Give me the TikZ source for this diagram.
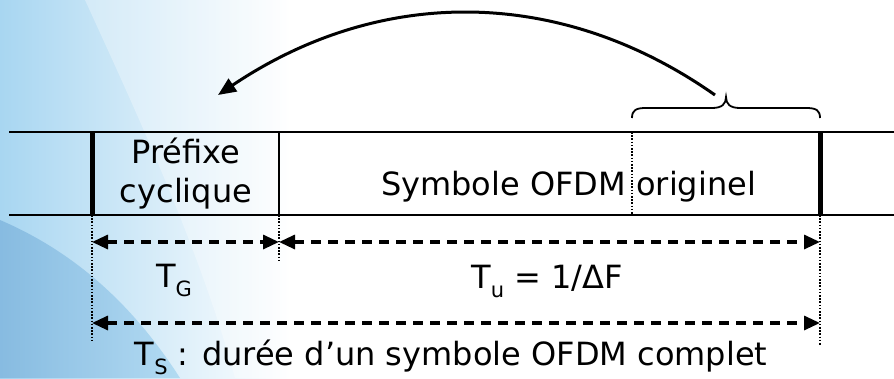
\documentclass[tikz,border=0pt]{standalone}
\usepackage{fontspec}
\setmainfont{DejaVu Sans}
\usetikzlibrary{arrows.meta}
\definecolor{bgA}{HTML}{A8D6F1}
\definecolor{bgB}{HTML}{7FB5DD}
\begin{document}
\begin{tikzpicture}[x=1pt,y=-1pt,
  bandline/.style={line width=2.7pt},
  sepline/.style={line width=5pt},
  thinsep/.style={line width=2.5pt},
  dotline/.style={line width=1.6pt, dash pattern=on 1.6pt off 1.6pt},
  dimarrow/.style={line width=3.2pt, dash pattern=on 10pt off 7pt,
    {Triangle[length=16pt,width=14pt]}-{Triangle[length=16pt,width=14pt]}},
  lbl/.style={font=\fontsize{32}{39}\selectfont, inner sep=0pt}]
% background
\useasboundingbox (0,0) rectangle (894,378);
\fill[white] (0,0) rectangle (894,378);
\shade[left color=bgA, right color=white] (0,0) rectangle (290,378);
\shade[left color=bgB, right color=bgA, opacity=0.8]
  (0,378) -- (0,220) .. controls (70,250) and (130,300) .. (180,378) -- cycle;
\fill[white, opacity=0.3] (85,0) .. controls (140,120) and (200,250) .. (235,378)
  -- (290,378) -- (290,0) -- cycle;
% key points
\coordinate (L0) at (9,132);   \coordinate (R0) at (894,132);
\coordinate (L1) at (9,215);   \coordinate (R1) at (894,215);
\coordinate (A0) at (92,132);  \coordinate (A1) at (92,215);
\coordinate (B0) at (279,132); \coordinate (B1) at (279,215);
\coordinate (C0) at (632,132); \coordinate (C1) at (632,215);
\coordinate (D0) at (820,132); \coordinate (D1) at (820,215);
\coordinate (Ad) at (92,342);  \coordinate (Bd) at (279,262); \coordinate (Dd) at (820,345);
\coordinate (A2) at (92,242);  \coordinate (B2) at (279,242); \coordinate (D2) at (820,242);
\coordinate (A3) at (92,323);  \coordinate (D3) at (820,323);
% band
\draw[bandline] (L0) -- (R0);
\draw[bandline] (L1) -- (R1);
\draw[sepline] (A0) -- (A1);
\draw[thinsep] (B0) -- (B1);
\draw[sepline] (D0) -- (D1);
\draw[dotline] (C0) -- (C1);
% dotted guides
\draw[dotline] (A1) -- (Ad);
\draw[dotline] (B1) -- (Bd);
\draw[dotline] (D1) -- (Dd);
% dimension arrows
\draw[dimarrow] (A2) -- (B2);
\draw[dimarrow] (B2) -- (D2);
\draw[dimarrow] (A3) -- (D3);
% texts
\node[lbl, anchor=base, align=center] (pref) at (186,202) {Préfixe\\cyclique};
\node[lbl, anchor=base west] (sym) at (381,195) {Symbole OFDM originel};
\node[lbl, anchor=base] (tg) at (174,287) {T\raisebox{-0.3em}{\fontsize{21}{21}\selectfont G}};
\node[lbl, anchor=base] (tu) at (547,288) {T\raisebox{-0.3em}{\fontsize{21}{21}\selectfont u} = 1/ΔF};
\node[lbl, anchor=base] (ts) at (451,365) {T\raisebox{-0.3em}{\fontsize{21}{21}\selectfont S} : durée d’un symbole OFDM complet};
% brace
\coordinate (bt) at (726,97);
\draw[line width=1.8pt] (632,118) .. controls (632,110) and (636,108) .. (646,108)
  -- (712,108) .. controls (722,108) and (726,104) .. (bt)
  .. controls (726,104) and (730,108) .. (740,108)
  -- (806,108) .. controls (816,108) and (820,110) .. (820,118);
% curved arrow
\coordinate (cs) at (715,95);
\coordinate (ce) at (218,95);
\draw[line width=3pt, -{Triangle[length=18pt,width=15pt]}]
  (cs) .. controls (560,-14) and (380,-14) .. (ce);
\end{tikzpicture}
\end{document}
